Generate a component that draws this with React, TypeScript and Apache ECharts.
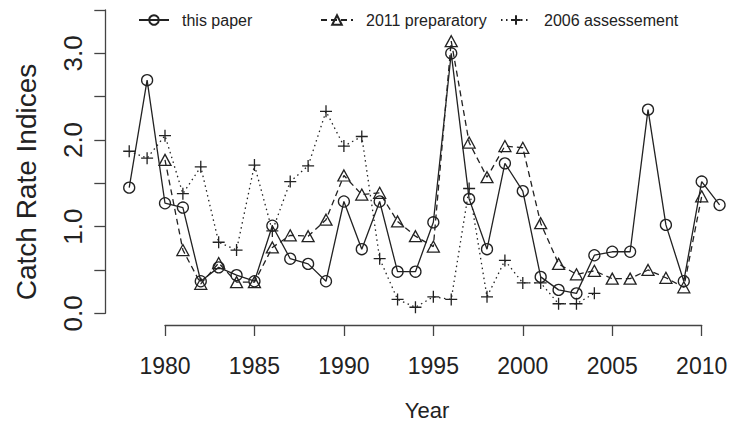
import React, { useEffect, useRef } from "react";
import * as echarts from "echarts";

// ---- data ----
const yearsPaper = [1978, 1979, 1980, 1981, 1982, 1983, 1984, 1985, 1986, 1987, 1988, 1989, 1990, 1991, 1992, 1993, 1994, 1995, 1996, 1997, 1998, 1999, 2000, 2001, 2002, 2003, 2004, 2005, 2006, 2007, 2008, 2009, 2010, 2011];
const thisPaper = [1.45, 2.69, 1.27, 1.22, 0.37, 0.53, 0.44, 0.37, 1.01, 0.63, 0.57, 0.37, 1.29, 0.74, 1.29, 0.48, 0.48, 1.05, 3.0, 1.32, 0.74, 1.73, 1.41, 0.42, 0.27, 0.23, 0.67, 0.71, 0.71, 2.35, 1.02, 0.37, 1.52, 1.25];

const yearsPrep = [1980, 1981, 1982, 1983, 1984, 1985, 1986, 1987, 1988, 1989, 1990, 1991, 1992, 1993, 1994, 1995, 1996, 1997, 1998, 1999, 2000, 2001, 2002, 2003, 2004, 2005, 2006, 2007, 2008, 2009, 2010];
const prep2011 = [1.77, 0.73, 0.34, 0.58, 0.36, 0.36, 0.76, 0.9, 0.89, 1.08, 1.59, 1.37, 1.39, 1.06, 0.89, 0.77, 3.14, 1.97, 1.57, 1.93, 1.91, 1.04, 0.57, 0.45, 0.49, 0.4, 0.4, 0.5, 0.41, 0.3, 1.35];

const yearsAssess = [1978, 1979, 1980, 1981, 1982, 1983, 1984, 1985, 1986, 1987, 1988, 1989, 1990, 1991, 1992, 1993, 1994, 1995, 1996, 1997, 1998, 1999, 2000, 2001, 2002, 2003, 2004];
const assess2006 = [1.87, 1.79, 2.05, 1.38, 1.69, 0.82, 0.73, 1.71, 0.95, 1.52, 1.7, 2.33, 1.93, 2.04, 0.63, 0.16, 0.07, 0.19, 0.16, 1.44, 0.19, 0.61, 0.35, 0.35, 0.11, 0.11, 0.23];

const seriesNames = ["this paper", "2011 preparatory", "2006 assessement"];
const xTickMin = 1980;
const xTickMax = 2010;
const yTickMax = 3.5;

const FONT = "'Liberation Sans', Arial, Helvetica, sans-serif";
const INK = "#222";
const AXIS = "#444";

export default function App() {
  const ref = useRef<HTMLDivElement>(null);

  useEffect(() => {
    document.body.style.margin = "0";
    if (!ref.current) return;
    const chart = echarts.init(ref.current, undefined, { renderer: "svg" });

    const plusSymbol = "path://M5,0L5,10M0,5L10,5";
    const common = {
      type: "line" as const,
      xAxisIndex: 0,
      yAxisIndex: 0,
      silent: true,
      emphasis: { disabled: true },
      showSymbol: true,
      showAllSymbol: true,
    };

    chart.setOption({
      animation: false,
      textStyle: { fontFamily: FONT },
      grid: [
        // data region (R plot region, cut at the picture's edges)
        { left: 105.6, top: 0, width: 627.4, height: 325, containLabel: false },
        // x axis region (ticks 1980..2010)
        { left: 165, top: 0, width: 536.7, height: 325, containLabel: false },
        // y axis region (ticks 0..3.5)
        { left: 105.3, top: 10, width: 10, height: 303.3, containLabel: false },
      ],
      xAxis: [
        { type: "value", gridIndex: 0, min: 1976.68, max: 2011.75, show: false },
        {
          type: "value",
          gridIndex: 1,
          min: xTickMin,
          max: xTickMax,
          interval: 5,
          axisLine: { show: true, lineStyle: { color: AXIS, width: 1.3 } },
          axisTick: { show: true, inside: false, length: 11, lineStyle: { color: AXIS, width: 1.3 } },
          axisLabel: {
            show: true,
            fontSize: 23,
            color: INK,
            margin: 29,
            fontFamily: FONT,
            formatter: (v: number) => String(v),
          },
          splitLine: { show: false },
        },
        { type: "value", gridIndex: 2, show: false, min: 0, max: 1 },
      ],
      yAxis: [
        { type: "value", gridIndex: 0, min: -0.135, max: 3.615, show: false },
        { type: "value", gridIndex: 1, show: false, min: 0, max: 1 },
        {
          type: "value",
          gridIndex: 2,
          min: 0,
          max: yTickMax,
          interval: 0.5,
          axisLine: { show: true, lineStyle: { color: AXIS, width: 1.3 } },
          axisTick: { show: true, inside: false, length: 11, lineStyle: { color: AXIS, width: 1.3 } },
          axisLabel: {
            show: true,
            rotate: 90,
            fontSize: 26,
            color: INK,
            margin: 19,
            fontFamily: FONT,
            formatter: (v: number) => (Math.abs(v - Math.round(v)) < 1e-9 ? v.toFixed(1) : ""),
          },
          splitLine: { show: false },
        },
      ],
      legend: [
        {
          data: [seriesNames[0]],
          left: 133,
          top: 7,
          itemWidth: 30,
          itemHeight: 12,
          textStyle: { fontSize: 16, color: INK, fontFamily: FONT, padding: [0, 0, 0, 8] },
          selectedMode: false,
        },
        {
          data: [seriesNames[1]],
          left: 315,
          top: 7,
          itemWidth: 32,
          itemHeight: 12,
          textStyle: { fontSize: 16, color: INK, fontFamily: FONT, padding: [0, 0, 0, 8] },
          selectedMode: false,
        },
        {
          data: [seriesNames[2]],
          left: 495,
          top: 7,
          itemWidth: 30,
          itemHeight: 12,
          textStyle: { fontSize: 16, color: INK, fontFamily: FONT, padding: [0, 0, 0, 8] },
          selectedMode: false,
        },
      ],
      graphic: [
        {
          type: "text",
          x: 26,
          y: 182,
          rotation: Math.PI / 2,
          style: {
            text: "Catch Rate Indices",
            fontSize: 28,
            fontFamily: FONT,
            fill: INK,
            align: "center",
            verticalAlign: "middle",
          },
        },
        {
          type: "text",
          x: 427,
          y: 410,
          style: {
            text: "Year",
            fontSize: 22,
            fontFamily: FONT,
            fill: INK,
            align: "center",
            verticalAlign: "middle",
          },
        },
      ],
      series: [
        {
          ...common,
          name: seriesNames[0],
          data: yearsPaper.map((y, i) => [y, thisPaper[i]]),
          symbol: "circle",
          symbolSize: 11,
          lineStyle: { color: INK, width: 1.3, type: "solid" },
          itemStyle: { color: "rgba(255,255,255,0)", borderColor: INK, borderWidth: 1.3 },
        },
        {
          ...common,
          name: seriesNames[1],
          data: yearsPrep.map((y, i) => [y, prep2011[i]]),
          symbol: "triangle",
          symbolSize: [12, 11],
          lineStyle: { color: INK, width: 1.3, type: [6, 4] },
          itemStyle: { color: "rgba(255,255,255,0)", borderColor: INK, borderWidth: 1.3 },
        },
        {
          ...common,
          name: seriesNames[2],
          data: yearsAssess.map((y, i) => [y, assess2006[i]]),
          symbol: plusSymbol,
          symbolSize: 12,
          lineStyle: { color: INK, width: 1.3, type: [1.5, 3.5] },
          itemStyle: { color: "rgba(255,255,255,0)", borderColor: INK, borderWidth: 1.3 },
        },
      ],
    });

    return () => {
      chart.dispose();
    };
  }, []);

  return <div ref={ref} style={{ width: 733, height: 430 }} />;
}
